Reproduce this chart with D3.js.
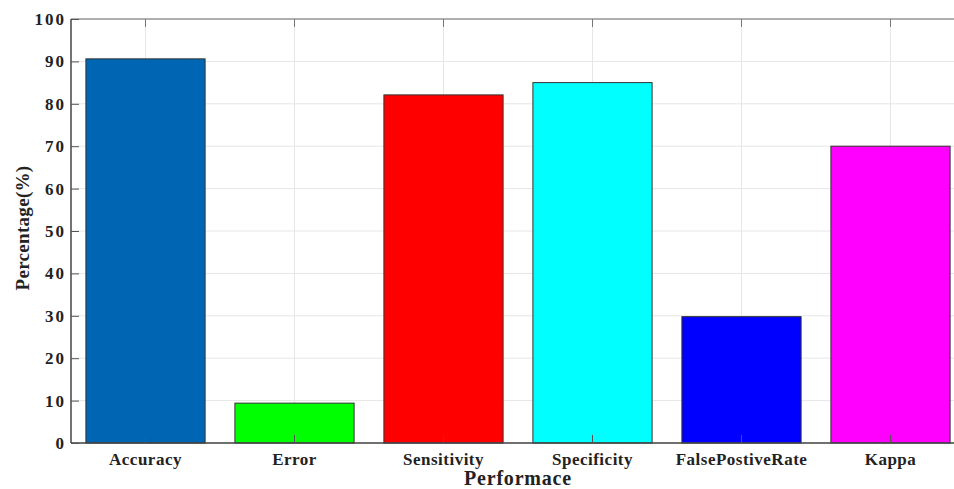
<!DOCTYPE html>
<html><head><meta charset="utf-8">
<script src="https://cdn.jsdelivr.net/npm/d3@7"></script>
<style>body{margin:0;background:#fff;} svg{display:block;}</style>
</head><body>
<script>
const categories = ["Accuracy","Error","Sensitivity","Specificity","FalsePostiveRate","Kappa"];
const values = [90.6, 9.4, 82.1, 85.0, 29.8, 70.0];
const colors = ["#0066b3","#00ff00","#ff0000","#00ffff","#0000ff","#ff00ff"];
const yTicks = [0,10,20,30,40,50,60,70,80,90,100];
const xTitle = "Performace";
const yTitle = "Percentage(%)";

const W = 954, H = 489;
const pL = 71, pT = 19, pB = 443, pR = 71 + 6*149;
const svg = d3.select("body").append("svg").attr("width", W).attr("height", H);
const font = "'Liberation Serif','Times New Roman',serif";

const x = d3.scaleBand().domain(categories).range([pL, pR]).paddingInner(0.2).paddingOuter(0.1);
const y = d3.scaleLinear().domain([0,100]).range([pB, pT]);

// grid
const g = svg.append("g");
g.selectAll(".hg").data(yTicks).enter().append("line")
  .attr("x1", pL).attr("x2", pR).attr("y1", d=>y(d)).attr("y2", d=>y(d))
  .attr("stroke", "#e6e6e6").attr("stroke-width", 1);
g.selectAll(".vg").data(categories).enter().append("line")
  .attr("x1", d=>x(d)+x.bandwidth()/2).attr("x2", d=>x(d)+x.bandwidth()/2)
  .attr("y1", pT).attr("y2", pB)
  .attr("stroke", "#e6e6e6").attr("stroke-width", 1);

// bars
svg.selectAll(".bar").data(categories).enter().append("rect")
  .attr("x", d=>x(d)).attr("width", x.bandwidth())
  .attr("y", (d,i)=>y(values[i])).attr("height", (d,i)=>pB - y(values[i]))
  .attr("fill", (d,i)=>colors[i]).attr("stroke", "#333").attr("stroke-width", 1);

// frame
svg.append("line").attr("x1", pL).attr("x2", pR).attr("y1", pT).attr("y2", pT).attr("stroke", "#999").attr("stroke-width", 1.5);
svg.append("line").attr("x1", pL).attr("x2", W).attr("y1", pB).attr("y2", pB).attr("stroke", "#444").attr("stroke-width", 1.5);
svg.append("line").attr("x1", pL).attr("x2", pL).attr("y1", pT).attr("y2", pB).attr("stroke", "#444").attr("stroke-width", 1.5);

// y axis
const yAxis = d3.axisLeft(y).tickValues(yTicks).tickSize(-8).tickPadding(5).tickSizeOuter(0);
const ya = svg.append("g").attr("transform", `translate(${pL},0)`).call(yAxis);
ya.select(".domain").remove();
ya.selectAll(".tick line").attr("stroke", "#555");
ya.selectAll("text").attr("font-family", font).attr("font-weight", "bold").attr("font-size", 17)
  .attr("letter-spacing", 2).attr("fill", "#222");

// x axis
const xAxis = d3.axisBottom(x).tickSize(-8).tickPadding(10).tickSizeOuter(0);
const xa = svg.append("g").attr("transform", `translate(0,${pB})`).call(xAxis);
xa.select(".domain").remove();
xa.selectAll(".tick line").attr("stroke", "#555");
xa.selectAll("text").attr("font-family", font).attr("font-weight", "bold").attr("font-size", 17)
  .attr("letter-spacing", 0.5).attr("fill", "#222");
// top ticks
svg.selectAll(".tt").data(categories).enter().append("line")
  .attr("x1", d=>x(d)+x.bandwidth()/2).attr("x2", d=>x(d)+x.bandwidth()/2)
  .attr("y1", pT).attr("y2", pT+8).attr("stroke", "#777");

// titles
svg.append("text").attr("x", 518).attr("y", 485).attr("text-anchor", "middle")
  .attr("font-family", font).attr("font-weight", "bold").attr("font-size", 20).attr("letter-spacing", 0.8)
  .attr("fill", "#222").text(xTitle);
svg.append("text").attr("transform", "translate(29,228) rotate(-90)").attr("text-anchor", "middle")
  .attr("font-family", font).attr("font-weight", "bold").attr("font-size", 19).attr("letter-spacing", 0.3)
  .attr("fill", "#222").text(yTitle);
</script>
</body></html>
